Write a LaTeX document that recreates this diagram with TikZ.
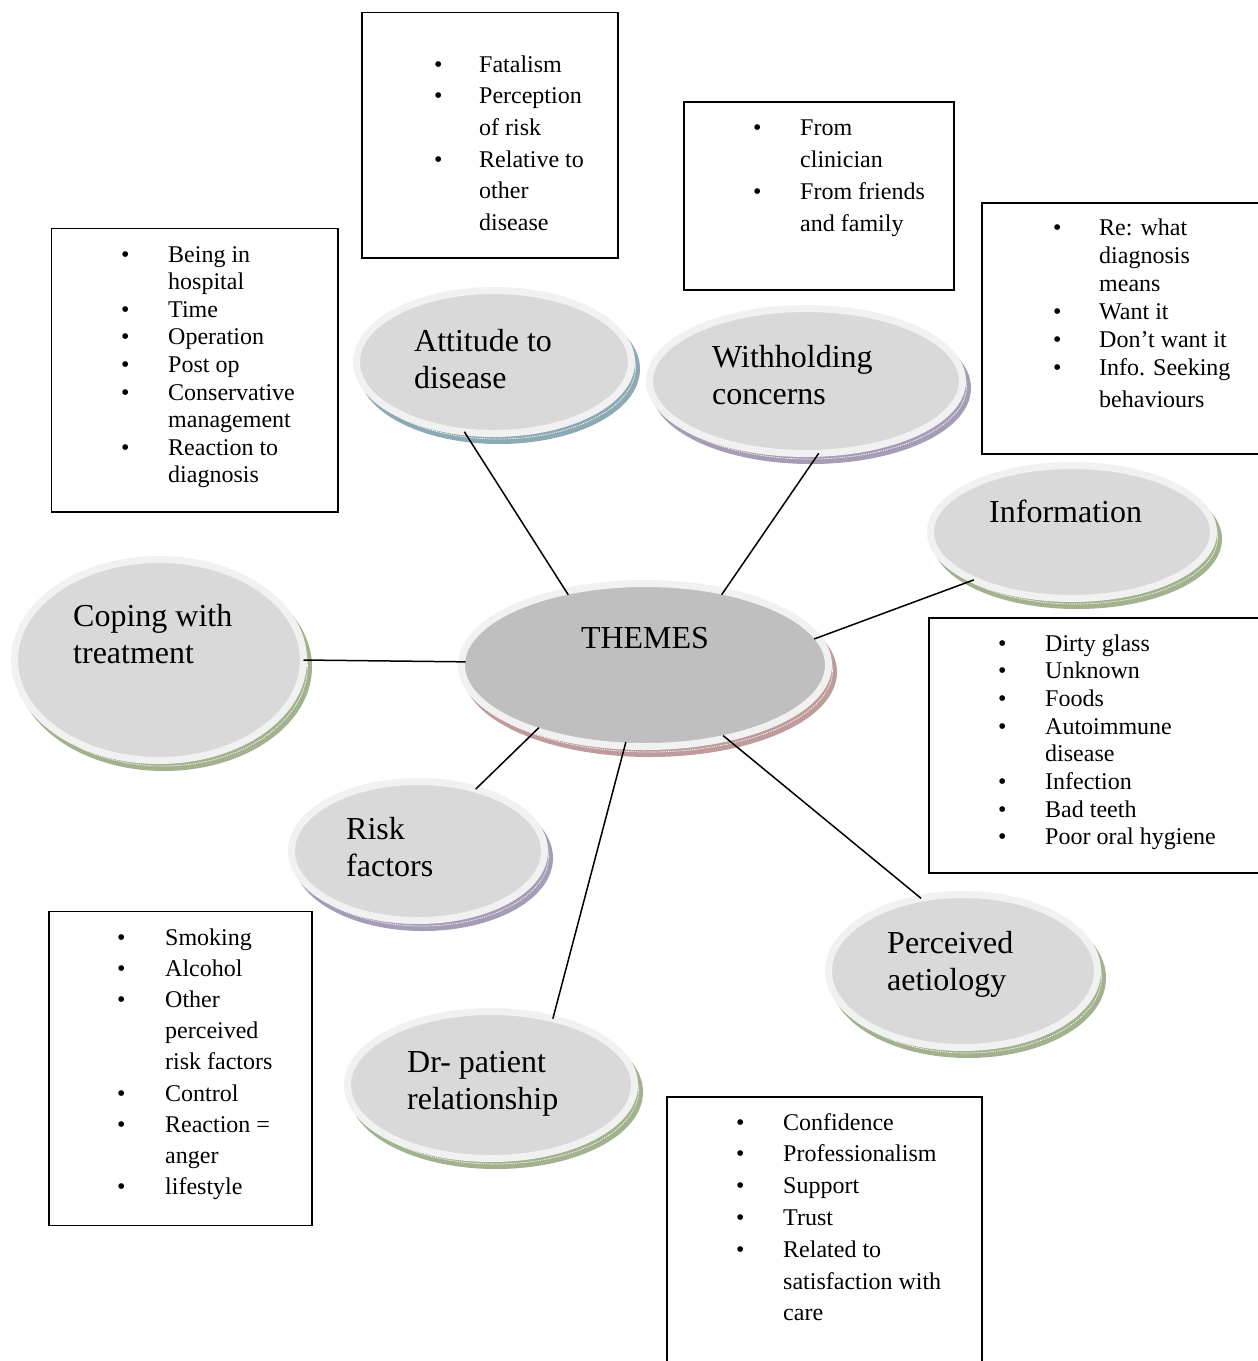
\documentclass[tikz,border=0pt]{standalone}
\usepackage{fontspec}
\setmainfont{Liberation Serif}
\usetikzlibrary{shapes.geometric,shadows}
\definecolor{rim}{HTML}{F1F1F1}
\definecolor{innerfill}{HTML}{D9D9D9}
\definecolor{innerdark}{HTML}{BFBFBF}
\definecolor{shblue}{HTML}{8DA9B4}
\definecolor{shpurple}{HTML}{A59DB5}
\definecolor{shgreen}{HTML}{A2B28E}
\definecolor{shrose}{HTML}{BF9C9C}
\tikzset{
  bubble/.style={ellipse, inner sep=0pt, outer sep=0pt, draw=rim, line width=7pt, fill=innerfill,
    general shadow={fill=#1, draw=#1, shadow xshift=5pt, shadow yshift=-7pt},
    general shadow={fill=#1, draw=white, line width=0.7pt, dash pattern=on 1.2pt off 1pt, shadow xshift=4pt, shadow yshift=-5.5pt}},
  lbl/.style={anchor=base west, inner sep=0pt, font=\fontsize{32}{37}\selectfont},
  listbox/.style={draw=black, line width=1.6pt, inner sep=0pt, outer sep=0pt},
  listtxt/.style={anchor=base west, inner sep=0pt, font=\fontsize{24}{#1}\selectfont},
  conn/.style={draw=black, line width=1.5pt, shorten >=-4pt}
}
\begin{document}
\begin{tikzpicture}[x=1pt,y=-1pt]
\useasboundingbox (0,0) rectangle (1258,1361);
\clip (0,0) rectangle (1258,1361);
\fill[white] (0,0) rectangle (1258,1361);

% boxes
\node[listbox, minimum width=256pt, minimum height=245.5pt] (attbox) at (490,135.25) {};
\node[listbox, minimum width=270pt, minimum height=188pt] (withbox) at (819,196) {};
\node[listbox, minimum width=308pt, minimum height=251pt] (infobox) at (1136,328.5) {};
\node[listbox, minimum width=286.5pt, minimum height=283.5pt] (copbox) at (194.75,370.25) {};
\node[listbox, minimum width=361pt, minimum height=255pt] (percbox) at (1109.5,745.5) {};
\node[listbox, minimum width=263pt, minimum height=314pt] (riskbox) at (180.5,1068.5) {};
\node[listbox, minimum width=315pt, minimum height=303pt] (drbox) at (824.5,1248.5) {};

\node[listtxt=31.7] (attbox-t) at (434,72) {\begin{tabular}[t]{@{}p{45pt}@{}l@{}}
\textbullet & Fatalism\\ \textbullet & Perception\\ & of risk\\ \textbullet & Relative to\\ & other\\ & disease\end{tabular}};
\node[listtxt=32] (withbox-t) at (753,135) {\begin{tabular}[t]{@{}p{47pt}@{}l@{}}
\textbullet & From\\ & clinician\\ \textbullet & From friends\\ & and family\end{tabular}};
\node[listtxt=28] (infobox-t) at (1053,235) {\begin{tabular}[t]{@{}p{46pt}@{}l@{}}
\textbullet & Re: what\\ & diagnosis\\ & means\\ \textbullet & Want it\\ \textbullet & Don’t want it\\ \textbullet & Info. Seeking\\[4pt] & behaviours\end{tabular}};
\node[listtxt=27.6] (copbox-t) at (121,262) {\begin{tabular}[t]{@{}p{47pt}@{}l@{}}
\textbullet & Being in\\ & hospital\\ \textbullet & Time\\ \textbullet & Operation\\ \textbullet & Post op\\ \textbullet & Conservative\\ & management\\ \textbullet & Reaction to\\ & diagnosis\end{tabular}};
\node[listtxt=27.7] (percbox-t) at (998,651) {\begin{tabular}[t]{@{}p{47pt}@{}l@{}}
\textbullet & Dirty glass\\ \textbullet & Unknown\\ \textbullet & Foods\\ \textbullet & Autoimmune\\ & disease\\ \textbullet & Infection\\ \textbullet & Bad teeth\\ \textbullet & Poor oral hygiene\end{tabular}};
\node[listtxt=31.2] (riskbox-t) at (117,945) {\begin{tabular}[t]{@{}p{48pt}@{}l@{}}
\textbullet & Smoking\\ \textbullet & Alcohol\\ \textbullet & Other\\ & perceived\\ & risk factors\\ \textbullet & Control\\ \textbullet & Reaction =\\ & anger\\ \textbullet & lifestyle\end{tabular}};
\node[listtxt=31.8] (drbox-t) at (736,1130) {\begin{tabular}[t]{@{}p{47pt}@{}l@{}}
\textbullet & Confidence\\ \textbullet & Professionalism\\ \textbullet & Support\\ \textbullet & Trust\\ \textbullet & Related to\\ & satisfaction with\\ & care\end{tabular}};

% ellipses
\node[bubble=shblue, minimum width=275pt, minimum height=143pt] (att) at (494,362) {};
\node[bubble=shpurple, minimum width=313pt, minimum height=145pt] (with) at (806,381) {};
\node[bubble=shgreen, minimum width=283pt, minimum height=133pt] (info) at (1072,532) {};
\node[bubble=shgreen, minimum width=289pt, minimum height=201pt] (cop) at (159,660) {};
\node[bubble=shrose, fill=innerdark, minimum width=367pt, minimum height=163pt] (themes) at (645,665) {};
\node[bubble=shpurple, minimum width=253pt, minimum height=139pt] (risk) at (418,851) {};
\node[bubble=shgreen, minimum width=269pt, minimum height=153pt] (perc) at (963,971) {};
\node[bubble=shgreen, minimum width=287pt, minimum height=147pt] (dr) at (491,1085) {};

\node[lbl] (att-t) at (414,351) {\begin{tabular}[t]{@{}l@{}}Attitude to\\ disease\end{tabular}};
\node[lbl] (with-t) at (712,367) {\begin{tabular}[t]{@{}l@{}}Withholding\\ concerns\end{tabular}};
\node[lbl] (info-t) at (989,522) {Information};
\node[lbl] (cop-t) at (73,626) {\begin{tabular}[t]{@{}l@{}}Coping with\\ treatment\end{tabular}};
\node[lbl, anchor=base] (themes-t) at (645,648) {THEMES};
\node[lbl] (risk-t) at (346,839) {\begin{tabular}[t]{@{}l@{}}Risk\\ factors\end{tabular}};
\node[lbl] (perc-t) at (887,953) {\begin{tabular}[t]{@{}l@{}}Perceived\\ aetiology\end{tabular}};
\node[lbl] (dr-t) at (407,1072) {\begin{tabular}[t]{@{}l@{}}Dr- patient\\ relationship\end{tabular}};

% connectors
\draw[conn] (att.-113) -- (themes.137);
\draw[conn] (with.-80) -- (themes.43);
\draw[conn] (info.-154) -- (themes.9);
\draw[conn] (cop.0) -- (themes.179);
\draw[conn] (risk.47) -- (themes.-149);
\draw[conn] (dr.47) -- (themes.-104);
\draw[conn] (perc.120) -- (themes.-42);
\end{tikzpicture}
\end{document}
